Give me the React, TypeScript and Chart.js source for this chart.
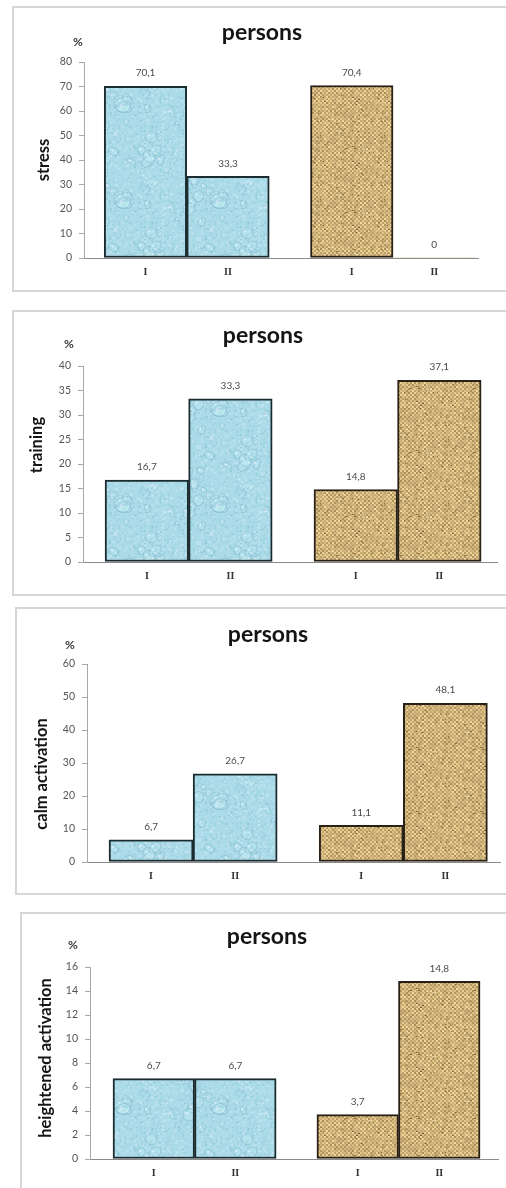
import React, { useEffect, useRef } from "react";
import { Chart, registerables } from "chart.js";

Chart.register(...registerables);

// ---------- data ----------
const chartTitle = "persons";
const unitLabel = "%";
const barLabels = ["I", "II", "I", "II"];

const stressValues = [70.1, 33.3, 70.4, 0];
const trainingValues = [16.7, 33.3, 14.8, 37.1];
const calmValues = [6.7, 26.7, 11.1, 48.1];
const heightenedValues = [6.7, 6.7, 3.7, 14.8];

const axisTitles = ["stress", "training", "calm activation", "heightened activation"];
const yMaxima = [80, 40, 60, 16];
const yStepSizes = [10, 5, 10, 2];

// ---------- layout (page pixel coordinates) ----------
const PAGE_W = 506;
const layouts = [
  { box: { top: 6, left: 12, height: 286 }, area: { left: 84, right: 478, top: 62, bottom: 258 }, xr: [0.255, 5.03], titleAt: [262, 33], pctAt: [78, 42], yTitleAt: [44, 160] },
  { box: { top: 310, left: 12, height: 286 }, area: { left: 83, right: 497, top: 366, bottom: 562 }, xr: [0.236, 5.19], titleAt: [263, 336], pctAt: [69, 344], yTitleAt: [37, 445] },
  { box: { top: 607, left: 15, height: 288 }, area: { left: 87, right: 500, top: 664, bottom: 862 }, xr: [0.238, 5.15], titleAt: [268, 635], pctAt: [70, 645], yTitleAt: [42, 774] },
  { box: { top: 912, left: 20, height: 290 }, area: { left: 90, right: 498, top: 967, bottom: 1159 }, xr: [0.218, 5.22], titleAt: [267, 937], pctAt: [73, 945], yTitleAt: [46, 1058] },
];
const seriesList = [stressValues, trainingValues, calmValues, heightenedValues];

// bar slot on the linear x axis: two adjacent bars, half a bar gap, two adjacent bars
const slotOf = (i: number) => i + 1 + (i >= 2 ? 0.5 : 0);

function rng(seed: number) {
  let s = seed >>> 0;
  return () => {
    s = (Math.imul(s, 1664525) + 1013904223) >>> 0;
    return s / 4294967296;
  };
}

function makeWaterPattern(ctx: CanvasRenderingContext2D) {
  const S = 96;
  const c = document.createElement("canvas");
  c.width = S;
  c.height = S;
  const g = c.getContext("2d")!;
  g.fillStyle = "#abdbe9";
  g.fillRect(0, 0, S, S);
  const r = rng(11);
  for (let i = 0; i < 900; i++) {
    g.fillStyle = r() < 0.5 ? "rgba(255,255,255,0.18)" : "rgba(80,155,185,0.12)";
    g.fillRect(Math.floor(r() * S), Math.floor(r() * S), 2, 2);
  }
  for (let i = 0; i < 24; i++) {
    const x = r() * S, y = r() * S, w = 3 + r() * 7, h = 2 + r() * 4, rot = r() * Math.PI;
    for (const dx of [-S, 0, S]) {
      for (const dy of [-S, 0, S]) {
        g.beginPath();
        g.ellipse(x + dx, y + dy, w, h, rot, 0, Math.PI * 2);
        g.fillStyle = "rgba(205,240,248,0.22)";
        g.fill();
        g.strokeStyle = "rgba(85,150,180,0.3)";
        g.lineWidth = 1;
        g.stroke();
        g.beginPath();
        g.arc(x + dx - w * 0.3, y + dy - h * 0.3, 1, 0, Math.PI * 2);
        g.fillStyle = "rgba(255,255,255,0.55)";
        g.fill();
      }
    }
  }
  return ctx.createPattern(c, "repeat")!;
}

function makeBurlapPattern(ctx: CanvasRenderingContext2D) {
  const S = 64;
  const c = document.createElement("canvas");
  c.width = S;
  c.height = S;
  const g = c.getContext("2d")!;
  const r = rng(5);
  for (let y = 0; y < S; y += 2) {
    for (let x = 0; x < S; x += 2) {
      const weave = ((x >> 1) + (y >> 1)) % 2 === 0;
      const n = (r() - 0.5) * 40;
      const base = weave ? [222, 196, 142] : [190, 159, 100];
      g.fillStyle = `rgb(${Math.round(base[0] + n)},${Math.round(base[1] + n)},${Math.round(base[2] + n * 0.8)})`;
      g.fillRect(x, y, 2, 2);
    }
  }
  for (let i = 0; i < 60; i++) {
    g.fillStyle = r() < 0.6 ? "rgba(100,72,32,0.7)" : "rgba(242,228,195,0.8)";
    g.fillRect(Math.floor(r() * S), Math.floor(r() * S), r() < 0.5 ? 2 : 1, 1);
  }
  return ctx.createPattern(c, "repeat")!;
}

const fmt = (v: number) => String(v).replace(".", ",");

const decorPlugin = {
  id: "decor",
  afterDraw(chart: any, _args: any, opts: any) {
    const ctx: CanvasRenderingContext2D = chart.ctx;
    const oy = opts.offsetY;
    ctx.save();
    ctx.textAlign = "center";
    ctx.textBaseline = "middle";
    ctx.fillStyle = "#151515";
    ctx.font = "bold 23px Lato";
    ctx.fillText(opts.title, opts.titleAt[0], opts.titleAt[1] - oy);
    ctx.fillStyle = "#3a3a3a";
    ctx.font = "bold 12px Lato";
    ctx.fillText(opts.unit, opts.pctAt[0], opts.pctAt[1] - oy);
    ctx.save();
    ctx.translate(opts.yTitleAt[0], opts.yTitleAt[1] - oy);
    ctx.rotate(-Math.PI / 2);
    ctx.fillStyle = "#151515";
    ctx.font = "bold 16.5px Lato";
    ctx.fillText(opts.yTitle, 0, 0);
    ctx.restore();
    ctx.fillStyle = "#4a4a4a";
    ctx.font = "10px Lato";
    const meta = chart.getDatasetMeta(0);
    const data = chart.data.datasets[0].data;
    meta.data.forEach((el: any, i: number) => {
      ctx.fillText(fmt(data[i].y), el.x, el.y - 13);
    });
    ctx.restore();
  },
};

function Panel({ index }: { index: number }) {
  const ref = useRef<HTMLCanvasElement>(null);
  const L = layouts[index];
  const canvasTop = L.box.top;
  const H = Math.min(L.box.height, 1188 - canvasTop);

  useEffect(() => {
    const canvas = ref.current!;
    const ctx = canvas.getContext("2d")!;
    const water = makeWaterPattern(ctx);
    const burlap = makeBurlapPattern(ctx);
    const values = seriesList[index];
    const slots = values.map((_, i) => slotOf(i));
    const fills = values.map((_, i) => (i < 2 ? water : burlap));
    const borders = values.map((_, i) => (i < 2 ? "#1b2c31" : "#2a2116"));
    const widths = values.map((v) => (v === 0 ? 0 : 2));

    const chart = new Chart(canvas, {
      type: "bar",
      data: {
        datasets: [
          {
            data: values.map((v, i) => ({ x: slots[i], y: v })),
            backgroundColor: fills as any,
            borderColor: borders,
            borderWidth: widths,
            borderSkipped: false,
            barPercentage: 1,
            categoryPercentage: 1,
          } as any,
        ],
      },
      options: {
        responsive: false,
        maintainAspectRatio: false,
        animation: false,
        devicePixelRatio: 1,
        layout: {
          padding: {
            left: 0,
            right: PAGE_W - L.area.right,
            top: L.area.top - canvasTop,
            bottom: 0,
          },
        },
        plugins: {
          legend: { display: false },
          tooltip: { enabled: false },
          title: { display: false },
          decor: {
            offsetY: canvasTop,
            title: chartTitle,
            unit: unitLabel,
            yTitle: axisTitles[index],
            titleAt: L.titleAt,
            pctAt: L.pctAt,
            yTitleAt: L.yTitleAt,
          },
        } as any,
        scales: {
          x: {
            type: "linear",
            offset: false,
            min: L.xr[0],
            max: L.xr[1],
            grid: { display: false, drawTicks: false, offset: false },
            border: { display: true, color: "#8a8a8a", width: 1 },
            afterBuildTicks: (s: any) => {
              s.ticks = slots.map((v) => ({ value: v }));
            },
            afterFit: (s: any) => {
              s.height = H - (L.area.bottom - canvasTop);
            },
            ticks: {
              autoSkip: false,
              maxRotation: 0,
              padding: 8,
              color: "#333333",
              font: { family: "Liberation Serif", size: 10, weight: "bold" },
              callback: (_v: any, i: number) => barLabels[i],
            },
          },
          y: {
            type: "linear",
            min: 0,
            max: yMaxima[index],
            grid: { drawOnChartArea: false, drawTicks: true, tickLength: 5, color: "#a8a8a8" },
            border: { display: true, color: "#a8a8a8", width: 1 },
            afterFit: (s: any) => {
              s.width = L.area.left;
            },
            ticks: {
              stepSize: yStepSizes[index],
              padding: 7,
              color: "#555555",
              font: { family: "Lato", size: 10.5 },
            },
          },
        },
      } as any,
      plugins: [decorPlugin as any],
    });
    return () => chart.destroy();
  }, [index]);

  return (
    <>
      <div
        style={{
          position: "absolute",
          left: L.box.left,
          top: L.box.top,
          width: 540,
          height: L.box.height,
          border: "2px solid #d6d6d6",
          boxSizing: "border-box",
          background: "#ffffff",
        }}
      />
      <canvas
        ref={ref}
        width={PAGE_W}
        height={H}
        style={{ position: "absolute", left: 0, top: canvasTop, width: PAGE_W, height: H, display: "block" }}
      />
    </>
  );
}

export default function App() {
  return (
    <div
      style={{
        position: "fixed",
        left: 0,
        top: 0,
        width: PAGE_W,
        height: 1188,
        overflow: "hidden",
        background: "#ffffff",
      }}
    >
      {layouts.map((_, i) => (
        <Panel key={i} index={i} />
      ))}
    </div>
  );
}
